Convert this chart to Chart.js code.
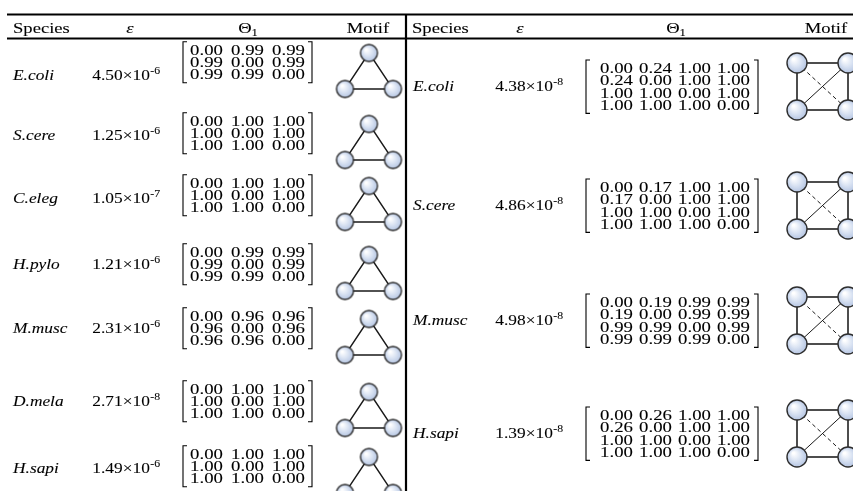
<!DOCTYPE html>
<html>
<head>
<meta charset="utf-8">
<script src="https://cdn.jsdelivr.net/npm/chart.js@4.4.0/dist/chart.umd.min.js"></script>
<style>
  html, body { margin: 0; padding: 0; background: #fff; overflow: hidden; }
  canvas { display: block; }
</style>
</head>
<body>
<canvas id="motifTable" width="853" height="491"></canvas>
<script>
// ---- three-node motifs (left half) ----
const triSpecies = ['E.coli', 'S.cere', 'C.eleg', 'H.pylo', 'M.musc', 'D.mela', 'H.sapi'];
const triEpsMantissa = ['4.50', '1.25', '1.05', '1.21', '2.31', '2.71', '1.49'];
const triEpsExponent = ['-6', '-6', '-7', '-6', '-6', '-8', '-6'];
const triTheta = [
  [['0.00', '0.99', '0.99'], ['0.99', '0.00', '0.99'], ['0.99', '0.99', '0.00']],
  [['0.00', '1.00', '1.00'], ['1.00', '0.00', '1.00'], ['1.00', '1.00', '0.00']],
  [['0.00', '1.00', '1.00'], ['1.00', '0.00', '1.00'], ['1.00', '1.00', '0.00']],
  [['0.00', '0.99', '0.99'], ['0.99', '0.00', '0.99'], ['0.99', '0.99', '0.00']],
  [['0.00', '0.96', '0.96'], ['0.96', '0.00', '0.96'], ['0.96', '0.96', '0.00']],
  [['0.00', '1.00', '1.00'], ['1.00', '0.00', '1.00'], ['1.00', '1.00', '0.00']],
  [['0.00', '1.00', '1.00'], ['1.00', '0.00', '1.00'], ['1.00', '1.00', '0.00']]
];

// ---- four-node motifs (right half) ----
const quadSpecies = ['E.coli', 'S.cere', 'M.musc', 'H.sapi'];
const quadEpsMantissa = ['4.38', '4.86', '4.98', '1.39'];
const quadEpsExponent = ['-8', '-8', '-8', '-8'];
const quadTheta = [
  [['0.00', '0.24', '1.00', '1.00'], ['0.24', '0.00', '1.00', '1.00'], ['1.00', '1.00', '0.00', '1.00'], ['1.00', '1.00', '1.00', '0.00']],
  [['0.00', '0.17', '1.00', '1.00'], ['0.17', '0.00', '1.00', '1.00'], ['1.00', '1.00', '0.00', '1.00'], ['1.00', '1.00', '1.00', '0.00']],
  [['0.00', '0.19', '0.99', '0.99'], ['0.19', '0.00', '0.99', '0.99'], ['0.99', '0.99', '0.00', '0.99'], ['0.99', '0.99', '0.99', '0.00']],
  [['0.00', '0.26', '1.00', '1.00'], ['0.26', '0.00', '1.00', '1.00'], ['1.00', '1.00', '0.00', '1.00'], ['1.00', '1.00', '1.00', '0.00']]
];

const columnHeaders = ['Species', 'ε', 'Θ', 'Motif'];

// ---- layout (page units = pixels of the 853 x 491 sheet) ----
const W = 853, H = 491;
const triRowMid = [62, 133, 195, 264, 328, 401, 466];   // middle matrix row of each left entry
const triLabelY = [75, 135, 198, 264, 328, 401, 468];
const quadRowTop = [68, 187, 302, 415];                  // first matrix row of each right entry
const ROW_PITCH = 12.3;

const SERIF = '"Liberation Serif", "Times New Roman", serif';
const STRETCH = { head: 1.2, label: 1.12, eps: 1.12, cell: 1.27 };

// node sprite: pale blue sphere with dark rim
function nodeSprite(r) {
  const s = Math.ceil(2 * r + 4);
  const cv = document.createElement('canvas');
  cv.width = s; cv.height = s;
  const g = cv.getContext('2d');
  const c = s / 2;
  const grad = g.createRadialGradient(c - r * 0.35, c - r * 0.4, r * 0.1, c, c, r);
  grad.addColorStop(0, '#ffffff');
  grad.addColorStop(0.5, '#dbe4f3');
  grad.addColorStop(1, '#b6c6e3');
  g.beginPath();
  g.arc(c, c, r, 0, Math.PI * 2);
  g.fillStyle = grad;
  g.fill();
  g.lineWidth = 1.4;
  g.strokeStyle = '#2e2e2e';
  g.stroke();
  return cv;
}

// motif geometry
function triNodes(i) {
  const m = triRowMid[i];
  return [{ x: 369, y: m - 9 }, { x: 345, y: m + 27 }, { x: 393, y: m + 27 }];
}
function quadNodes(i) {
  const t = quadRowTop[i] - 5;
  return { tl: { x: 797, y: t }, tr: { x: 848, y: t }, bl: { x: 797, y: t + 47 }, br: { x: 848, y: t + 47 } };
}

const datasets = [];
// nodes on top
datasets.push({
  data: triSpecies.flatMap((_, i) => triNodes(i)),
  pointStyle: nodeSprite(8.5), pointRadius: 9, showLine: false, order: 0
});
datasets.push({
  data: quadSpecies.flatMap((_, i) => { const q = quadNodes(i); return [q.tl, q.tr, q.bl, q.br]; }),
  pointStyle: nodeSprite(10), pointRadius: 10, showLine: false, order: 0
});
// triangle edges
triSpecies.forEach((_, i) => {
  const [a, b, c] = triNodes(i);
  datasets.push({ data: [a, b, c, a], showLine: true, borderColor: '#1a1a1a', borderWidth: 1.4, pointRadius: 0, order: 2 });
});
// square edges
quadSpecies.forEach((_, i) => {
  const q = quadNodes(i);
  datasets.push({ data: [q.tl, q.tr, q.br, q.bl, q.tl], showLine: true, borderColor: '#4d4d4d', borderWidth: 2, pointRadius: 0, order: 2 });
  datasets.push({ data: [q.bl, q.tr], showLine: true, borderColor: '#1a1a1a', borderWidth: 1, pointRadius: 0, order: 2 });
  datasets.push({ data: [q.tl, q.br], showLine: true, borderColor: '#1a1a1a', borderWidth: 1, borderDash: [4, 3], pointRadius: 0, order: 2 });
});

// text helper with horizontal stretch and a faint outline for print-like weight
function txt(ctx, s, x, y, font, align, sx) {
  ctx.save();
  ctx.font = font;
  ctx.textBaseline = 'alphabetic';
  ctx.textAlign = 'left';
  const w = ctx.measureText(s).width * sx;
  const x0 = align === 'center' ? x - w / 2 : align === 'right' ? x - w : x;
  ctx.translate(x0, y);
  ctx.scale(sx, 1);
  ctx.fillStyle = '#000';
  ctx.strokeStyle = 'rgba(0,0,0,0.6)';
  ctx.lineWidth = 0.15;
  ctx.fillText(s, 0, 0);
  ctx.strokeText(s, 0, 0);
  ctx.restore();
  return w;
}
function measure(ctx, s, font, sx) {
  ctx.save(); ctx.font = font; const w = ctx.measureText(s).width * sx; ctx.restore(); return w;
}

function drawEps(ctx, xs, cx, baseY, mant, exp) {
  const f1 = '15.5px ' + SERIF, f2 = '10.5px ' + SERIF;
  const body = mant + '×10';
  const w1 = measure(ctx, body, f1, STRETCH.eps);
  const w2 = measure(ctx, exp, f2, STRETCH.eps);
  const x0 = xs.getPixelForValue(cx) - (w1 + w2) / 2;
  txt(ctx, body, x0, baseY, f1, 'left', STRETCH.eps);
  txt(ctx, exp, x0 + w1 + 0.5, baseY - 6.5, f2, 'left', STRETCH.eps);
}

function drawMatrix(ctx, xs, ys, mat, firstY, centers, leftX, rightX) {
  const f = '14.8px ' + SERIF;
  mat.forEach((row, r) => {
    const y = ys.getPixelForValue(firstY + r * ROW_PITCH) + 5;
    row.forEach((v, c) => txt(ctx, v, xs.getPixelForValue(centers[c]), y, f, 'center', STRETCH.cell));
  });
  const top = ys.getPixelForValue(firstY - 8);
  const bot = ys.getPixelForValue(firstY + (mat.length - 1) * ROW_PITCH + 8.5);
  const l = xs.getPixelForValue(leftX), rr = xs.getPixelForValue(rightX);
  ctx.save();
  ctx.strokeStyle = '#000';
  ctx.lineWidth = 1.1;
  ctx.beginPath();
  ctx.moveTo(l + 4, top); ctx.lineTo(l, top); ctx.lineTo(l, bot); ctx.lineTo(l + 4, bot);
  ctx.moveTo(rr - 4, top); ctx.lineTo(rr, top); ctx.lineTo(rr, bot); ctx.lineTo(rr - 4, bot);
  ctx.stroke();
  ctx.restore();
}

const tablePlugin = {
  id: 'tableText',
  afterDatasetsDraw(chart) {
    const ctx = chart.ctx;
    const xs = chart.scales.x, ys = chart.scales.y;
    // rules
    ctx.save();
    ctx.strokeStyle = '#000';
    ctx.lineWidth = 2.2;
    ctx.beginPath();
    ctx.moveTo(xs.getPixelForValue(7), ys.getPixelForValue(14.5));
    ctx.lineTo(xs.getPixelForValue(W), ys.getPixelForValue(14.5));
    ctx.stroke();
    ctx.lineWidth = 2;
    ctx.beginPath();
    ctx.moveTo(xs.getPixelForValue(7), ys.getPixelForValue(38.5));
    ctx.lineTo(xs.getPixelForValue(W), ys.getPixelForValue(38.5));
    ctx.stroke();
    ctx.lineWidth = 2.2;
    ctx.beginPath();
    ctx.moveTo(xs.getPixelForValue(406), ys.getPixelForValue(14));
    ctx.lineTo(xs.getPixelForValue(406), ys.getPixelForValue(H));
    ctx.stroke();
    ctx.restore();

    // headers
    const hf = '15.5px ' + SERIF, hfi = 'italic 15.5px ' + SERIF, sub = '10.5px ' + SERIF;
    const hy = ys.getPixelForValue(33);
    const headerCols = [
      { sp: 13, eps: 130, th: 248, mo: 368 },
      { sp: 412, eps: 520, th: 676, mo: 826 }
    ];
    headerCols.forEach(hc => {
      txt(ctx, columnHeaders[0], xs.getPixelForValue(hc.sp), hy, hf, 'left', STRETCH.head);
      txt(ctx, columnHeaders[1], xs.getPixelForValue(hc.eps), hy, hfi, 'center', STRETCH.head);
      const wt = measure(ctx, columnHeaders[2], hf, STRETCH.head);
      const ws = measure(ctx, '1', sub, STRETCH.head);
      const tx = xs.getPixelForValue(hc.th) - (wt + ws) / 2;
      txt(ctx, columnHeaders[2], tx, hy, hf, 'left', STRETCH.head);
      txt(ctx, '1', tx + wt, hy + 3, sub, 'left', STRETCH.head);
      txt(ctx, columnHeaders[3], xs.getPixelForValue(hc.mo), hy, hf, 'center', STRETCH.head);
    });

    const lf = 'italic 15.5px ' + SERIF;
    // left half entries
    triSpecies.forEach((sp, i) => {
      const by = ys.getPixelForValue(triLabelY[i]) + 5;
      txt(ctx, sp, xs.getPixelForValue(13), by, lf, 'left', STRETCH.label);
      drawEps(ctx, xs, 126, by, triEpsMantissa[i], triEpsExponent[i]);
      drawMatrix(ctx, xs, ys, triTheta[i], triRowMid[i] - ROW_PITCH, [206.5, 247.5, 288.5], 183, 312);
    });
    // right half entries
    quadSpecies.forEach((sp, i) => {
      const by = ys.getPixelForValue(quadRowTop[i] + 18) + 5;
      txt(ctx, sp, xs.getPixelForValue(413), by, lf, 'left', STRETCH.label);
      drawEps(ctx, xs, 529, by, quadEpsMantissa[i], quadEpsExponent[i]);
      drawMatrix(ctx, xs, ys, quadTheta[i], quadRowTop[i], [616.5, 655.5, 694.5, 733.5], 586, 758);
    });
  }
};

new Chart(document.getElementById('motifTable'), {
  type: 'scatter',
  data: { datasets },
  options: {
    responsive: false,
    animation: false,
    events: [],
    layout: { padding: 0, autoPadding: false },
    scales: {
      x: { type: 'linear', min: 0, max: W, display: false },
      y: { type: 'linear', min: 0, max: H, reverse: true, display: false }
    },
    plugins: { legend: { display: false }, tooltip: { enabled: false } },
    elements: { line: { tension: 0 } },
    datasets: { scatter: { clip: false } }
  },
  plugins: [tablePlugin]
});
</script>
</body>
</html>
